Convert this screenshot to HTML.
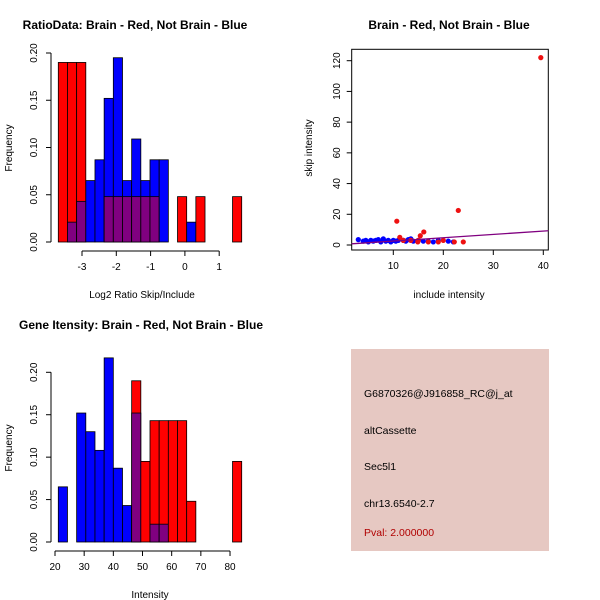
<!DOCTYPE html>
<html><head><meta charset="utf-8"><style>
body{margin:0;background:#fff}
svg{display:block;font-family:"Liberation Sans",sans-serif}
.t{font-weight:bold;font-size:12px}
.a{font-size:10px}
</style></head><body>
<svg id="s" width="600" height="600" xmlns="http://www.w3.org/2000/svg">
<rect width="600" height="600" fill="#fff"/>
<text class="t" x="135" y="29" text-anchor="middle">RatioData: Brain - Red, Not Brain - Blue</text>
<text class="t" x="449" y="29" text-anchor="middle">Brain - Red, Not Brain - Blue</text>
<text class="t" x="141" y="329" text-anchor="middle">Gene Itensity: Brain - Red, Not Brain - Blue</text>
<text class="a" x="142" y="298" text-anchor="middle">Log2 Ratio Skip/Include</text>
<text class="a" x="150" y="598" text-anchor="middle">Intensity</text>
<text class="a" x="449" y="298" text-anchor="middle">include intensity</text>
<text class="a" transform="translate(12,148) rotate(-90)" text-anchor="middle">Frequency</text>
<text class="a" transform="translate(12,448) rotate(-90)" text-anchor="middle">Frequency</text>
<text class="a" transform="translate(312,148) rotate(-90)" text-anchor="middle">skip intensity</text>
<g id="g1"></g><g id="g2"></g><g id="g3"></g>
<rect x="351" y="349" width="198" height="202" fill="#e6c8c2"/>
<g font-size="10.5" fill="#000">
<text x="364" y="397">G6870326@J916858_RC@j_at</text>
<text x="364" y="434">altCassette</text>
<text x="364" y="470">Sec5l1</text>
<text x="364" y="507">chr13.6540-2.7</text>
<text x="364" y="536" fill="#b00000">Pval: 2.000000</text>
</g>
</svg>
<script>
const ratioRed=[0.19,0.19,0.19,0,0,0.048,0.048,0.048,0.048,0.048,0.048,0,0,0.048,0,0.048,0,0,0,0.048];
const ratioBlue=[0,0.021,0.043,0.065,0.087,0.152,0.195,0.065,0.109,0.065,0.087,0.087,0,0,0.021,0,0,0,0,0];
const ratioTicks=[-3,-2,-1,0,1];
const ratioYTicks=[0,0.05,0.1,0.15,0.2];
const intRed=[0,0,0,0,0,0,0,0,0.19,0.095,0.143,0.143,0.143,0.143,0.048,0,0,0,0,0.095];
const intBlue=[0.065,0,0.152,0.13,0.108,0.217,0.087,0.043,0.152,0,0.021,0.021,0,0,0,0,0,0,0,0];
const intTicks=[20,30,40,50,60,70,80];
const intYTicks=[0,0.05,0.1,0.15,0.2];
const scBlueX=[3,4,4.5,5,5.5,6,6.5,7,7.5,8,8.5,9,9.5,10,10.5,11,12,12.5,13,13.5,14,15,16,17,18,19,21,22];
const scBlueY=[3.5,2.5,3,2,3,2.5,3,3.5,2,4,2.5,3,2,3,2.5,3,3,2.5,3.5,4,2.5,3,2.5,2.5,2,3,2.5,2];
const scRedX=[10.7,11.3,14.9,15.4,16.1,15,19,20,23,22.2,24,39.5,17,12,13.5];
const scRedY=[15.5,5,2,6,8.5,3,2,3,22.5,2,2,122,2,3,3];
const scXTicks=[10,20,30,40];
const scYTicks=[0,20,40,60,80,100,120];
const NS="http://www.w3.org/2000/svg";
function mk(g,tag,at){const e=document.createElementNS(NS,tag);for(const k in at)e.setAttribute(k,at[k]);g.appendChild(e);return e;}
function hist(gid,red,blue,x0,bw,y0,yScale,xt,xs,yt,pre){
  const g=document.getElementById(gid);
  const ys=v=>y0-v*yScale;
  red.forEach((r,i)=>{const b=blue[i];const x=x0+i*bw;const hi=Math.max(r,b),lo=Math.min(r,b);
    if(hi<=0)return;
    const c=r>=b?'#ff0000':'#0000ff';
    const e=mk(g,'rect',{x:x,y:ys(hi),width:bw,height:(hi)*yScale,fill:c,stroke:'#000','stroke-width':0.8});
    
    
    if(lo>0){const p=mk(g,'rect',{x:x,y:ys(lo),width:bw,height:lo*yScale,fill:'#800080',stroke:'#000','stroke-width':0.8});
      
      }
  });
  const ax=mk(g,'line',{x1:xs(xt[0]),x2:xs(xt[xt.length-1]),y1:y0+9,y2:y0+9,stroke:'#000'});
  
  
  xt.forEach(v=>{mk(g,'line',{x1:xs(v),x2:xs(v),y1:y0+9,y2:y0+14,stroke:'#000'});
    const t=mk(g,'text',{x:xs(v),y:y0+28,'text-anchor':'middle','font-size':'10'});t.textContent=v;
    
    });
  const ay=mk(g,'line',{x1:51,x2:51,y1:ys(yt[0]),y2:ys(yt[yt.length-1]),stroke:'#000'});
  
  
  yt.forEach(v=>{mk(g,'line',{x1:46,x2:51,y1:ys(v),y2:ys(v),stroke:'#000'});
    const t=mk(g,'text',{transform:`translate(37,${ys(v)}) rotate(-90)`,'text-anchor':'middle','font-size':'10'});t.textContent=v.toFixed(2);
    
    });
}
hist('g1',ratioRed,ratioBlue,58.3,9.17,242,189/0.2,ratioTicks,v=>82+(v+3)*34.3,ratioYTicks,'ratio');
hist('g2',intRed,intBlue,58.3,9.17,542,169.7/0.2,intTicks,v=>55+(v-20)*2.917,intYTicks,'intensity');
(function(){
  const g=document.getElementById('g3');
  const xs=v=>393.3+(v-10)*5, ys=v=>245-v*184.3/120;
  const b=mk(g,'rect',{x:351.7,y:49.3,width:196.6,height:200.7,fill:'none',stroke:'#000'});
  
  
  scXTicks.forEach(v=>{mk(g,'line',{x1:xs(v),x2:xs(v),y1:250,y2:255,stroke:'#000'});
    const t=mk(g,'text',{x:xs(v),y:269,'text-anchor':'middle','font-size':'10'});t.textContent=v;
    
    });
  scYTicks.forEach(v=>{mk(g,'line',{x1:346.7,x2:351.7,y1:ys(v),y2:ys(v),stroke:'#000'});
    const t=mk(g,'text',{transform:`translate(340,${ys(v)}) rotate(-90)`,'text-anchor':'middle','font-size':'10'});t.textContent=v;
    
    });
  scBlueX.forEach((x,i)=>{const c=mk(g,'circle',{cx:xs(x),cy:ys(scBlueY[i]),r:2.6,fill:'#0000ff'});
    
    });
  scRedX.forEach((x,i)=>{const c=mk(g,'circle',{cx:xs(x),cy:ys(scRedY[i]),r:2.6,fill:'#ee1111'});
    
    });
  const f=x=>0.4+0.216*x;
  const l=mk(g,'line',{x1:351.7,y1:ys(f(1.7)),x2:548.3,y2:ys(f(41)),stroke:'#800080','stroke-width':1.3});
  
  
})();
</script>
</body></html>
